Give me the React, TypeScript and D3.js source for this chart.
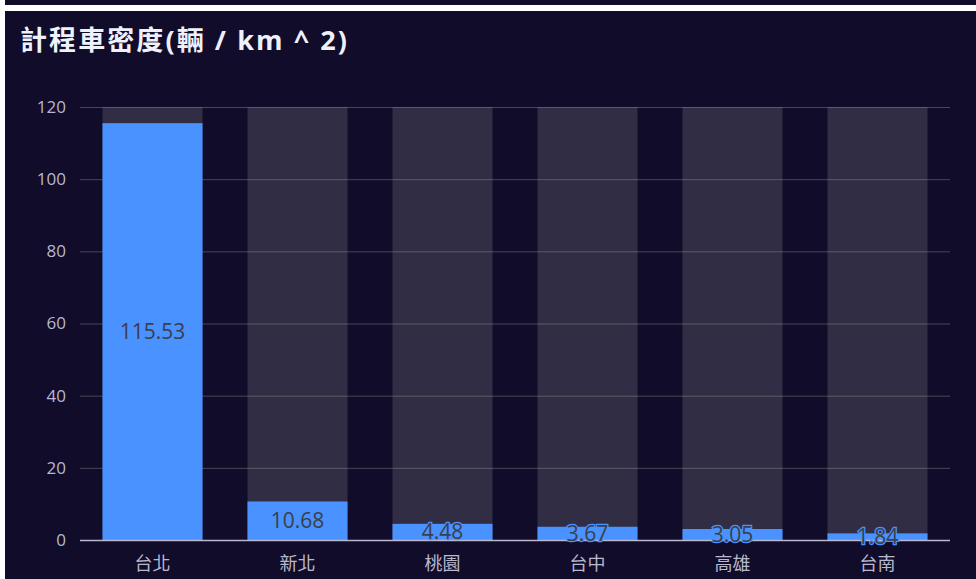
import React from "react";
import * as d3 from "d3";

const categories = ["台北", "新北", "桃園", "台中", "高雄", "台南"];
const values = [115.53, 10.68, 4.48, 3.67, 3.05, 1.84];
const yTicks = [0, 20, 40, 60, 80, 100, 120];
const title = "計程車密度(輛 / km ^ 2)";

const W = 976;
const H = 579;
const BG = "#100c2a";
const FONT = "'Open Sans', 'Noto Sans CJK TC', sans-serif";
const CJK = "'Noto Sans CJK TC', 'Noto Sans', sans-serif";

export default function App() {
  const left = 80, right = 950, top = 107, bottom = 540;
  const x = d3.scaleBand<string>().domain(categories).range([left, right]).paddingInner(0).paddingOuter(0);
  const y = d3.scaleLinear().domain([0, 120]).range([bottom, top]);
  const barW = x.bandwidth() * 0.69;

  return (
    <svg width={W} height={H} style={{ position: "fixed", left: 0, top: 0, background: "#fff" }}>
      <rect x={5} y={0} width={W - 5} height={5} fill={BG} />
      <rect x={5} y={11} width={W - 5} height={H - 11} fill={BG} />
      <text
        x={20}
        y={50}
        fill="#eef1fa"
        fontSize={27}
        fontWeight="bold"
        fontFamily={FONT}
        textLength={327}
        lengthAdjust="spacing"
      >
        {title}
      </text>
      {yTicks.map((t) =>
        t === 0 ? null : (
          <line key={"g" + t} x1={left} x2={right} y1={y(t) + 0.5} y2={y(t) + 0.5} stroke="#484753" strokeWidth={1} />
        )
      )}
      {yTicks.map((t) => (
        <text key={"yl" + t} x={66} y={y(t)} dy="0.35em" textAnchor="end" fill="#b9b8ce" fontSize={17} fontFamily={FONT}>
          {t}
        </text>
      ))}
      {categories.map((c, i) => {
        const cx = (x(c) as number) + x.bandwidth() / 2;
        const v = values[i];
        const yTop = y(v);
        return (
          <g key={c}>
            <rect x={cx - barW / 2} y={top} width={barW} height={bottom - top} fill="rgba(180,180,180,0.2)" />
            <rect x={cx - barW / 2} y={yTop} width={barW} height={bottom - yTop} fill="#4992ff" />
          </g>
        );
      })}
      <line x1={left} x2={right} y1={bottom + 0.5} y2={bottom + 0.5} stroke="#b9b8ce" strokeWidth={1.5} />
      {categories.map((c, i) => {
        const cx = (x(c) as number) + x.bandwidth() / 2;
        const v = values[i];
        const ym = (y(v) + bottom) / 2;
        return (
          <g key={"l" + c}>
            <text
              x={cx}
              y={ym}
              dy="0.35em"
              textAnchor="middle"
              fill="#3b3f4a"
              stroke="#4992ff"
              strokeWidth={2.5}
              style={{ paintOrder: "stroke" }}
              fontSize={21}
              fontFamily={FONT}
            >
              {v.toFixed(2)}
            </text>
            <text x={cx} y={bottom + 24} dy="0.35em" textAnchor="middle" fill="#b9b8ce" fontSize={18} fontFamily={CJK}>
              {c}
            </text>
          </g>
        );
      })}
    </svg>
  );
}
